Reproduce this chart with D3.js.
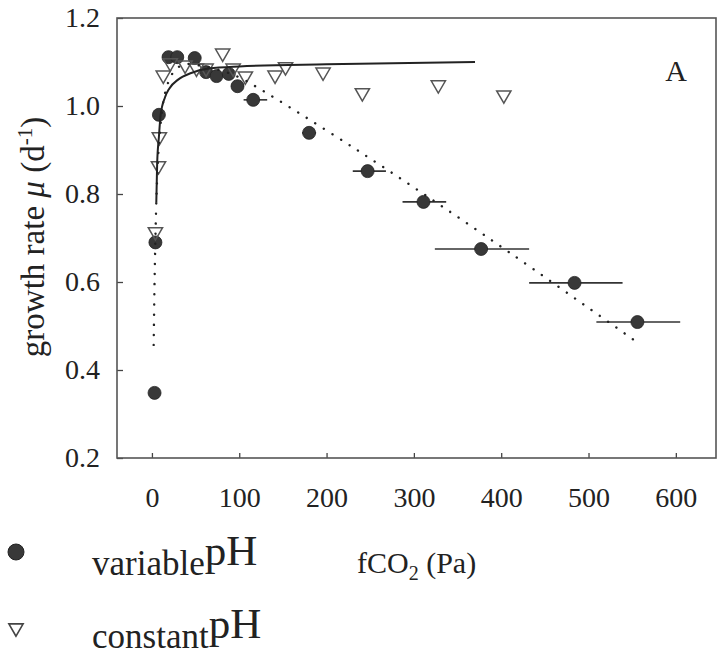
<!DOCTYPE html>
<html>
<head>
<meta charset="utf-8">
<script src="https://cdn.jsdelivr.net/npm/d3@7"></script>
<style>
  body { margin: 0; background: #fff; }
  svg text { font-family: "Liberation Serif", "Times New Roman", serif; fill: #222; }
</style>
</head>
<body>
<svg id="chart"></svg>
<script>
// tick values
const xTicks = [0, 100, 200, 300, 400, 500, 600];
const yTicks = [0.2, 0.4, 0.6, 0.8, 1.0, 1.2];

// variable pH (filled circles) + horizontal error bars
const varX  = [3, 4, 8, 19, 29, 49, 62, 74, 88, 98, 116, 180, 247, 311, 377, 484, 556];
const varY  = [0.348, 0.69, 0.98, 1.111, 1.111, 1.109, 1.077, 1.068, 1.073, 1.045, 1.014, 0.939, 0.852, 0.782, 0.675, 0.598, 0.509];
const varLo = [null, null, null, null, null, null, null, null, null, null, 105, 172, 230, 287, 324, 432, 509];
const varHi = [null, null, null, null, null, null, null, null, null, null, 132, 188, 268, 337, 432, 539, 605];

// constant pH (open triangles)
const conX = [4, 7.5, 8.5, 13, 21, 38, 51, 62, 81, 93, 107, 141, 153, 196, 241, 328, 403];
const conY = [0.714, 0.864, 0.93, 1.07, 1.098, 1.093, 1.086, 1.086, 1.12, 1.086, 1.068, 1.07, 1.089, 1.077, 1.03, 1.048, 1.025];

// fitted curve, constant pH (solid)
const fitConX = [5, 6, 8, 10, 15, 20, 30, 45, 65, 100, 200, 370];
const fitConY = [0.78, 0.87, 0.93, 0.98, 1.02, 1.04, 1.06, 1.075, 1.085, 1.09, 1.095, 1.1];

// fitted curve, variable pH (dotted)
const fitVarX = [2, 3, 4, 5, 7, 10, 14, 20, 28, 40, 60, 80, 100, 120, 235, 384, 555];
const fitVarY = [0.457, 0.6, 0.7, 0.78, 0.88, 0.96, 1.02, 1.06, 1.085, 1.095, 1.09, 1.08, 1.065, 1.043, 0.9, 0.702, 0.464];

const W = 721, H = 656;
const box = { left: 117, right: 716, top: 18, bottom: 458 };

const svg = d3.select("#chart").attr("width", W).attr("height", H);
svg.append("rect").attr("width", W).attr("height", H).attr("fill", "#fff");

const x = d3.scaleLinear().domain([-40, 646]).range([box.left, box.right]);
const y = d3.scaleLinear().domain([0.2, 1.2]).range([box.bottom, box.top]);

// axes with inward ticks
const xAxis = svg.append("g")
    .attr("transform", `translate(0,${box.bottom})`)
    .call(d3.axisBottom(x).tickValues(xTicks).tickFormat(d3.format("d"))
        .tickSizeInner(-5).tickSizeOuter(0).tickPadding(29));
const yAxis = svg.append("g")
    .attr("transform", `translate(${box.left},0)`)
    .call(d3.axisLeft(y).tickValues(yTicks).tickFormat(d3.format(".1f"))
        .tickSizeInner(-6).tickSizeOuter(0).tickPadding(17));

[xAxis, yAxis].forEach(g => {
    g.attr("font-family", null);
    g.select(".domain").remove();
    g.selectAll(".tick line").attr("stroke", "#444").attr("stroke-width", 1.3);
    g.selectAll("text").style("font-family", "'Liberation Serif', serif").attr("fill", "#222");
});
xAxis.selectAll("text").attr("font-size", 28);
yAxis.selectAll("text").attr("font-size", 28);

// frame
svg.append("rect")
    .attr("x", box.left).attr("y", box.top)
    .attr("width", box.right - box.left).attr("height", box.bottom - box.top)
    .attr("fill", "none").attr("stroke", "#555").attr("stroke-width", 1.6);

// error bars
const bars = varX.map((d, i) => ({ x: d, y: varY[i], lo: varLo[i], hi: varHi[i] }))
    .filter(d => d.lo !== null);
svg.selectAll(".err").data(bars).enter().append("line")
    .attr("class", "err")
    .attr("x1", d => x(d.lo)).attr("x2", d => x(d.hi))
    .attr("y1", d => y(d.y)).attr("y2", d => y(d.y))
    .attr("stroke", "#333").attr("stroke-width", 1.6);

// variable pH points
svg.selectAll(".var").data(varX.map((d, i) => [d, varY[i]])).enter().append("circle")
    .attr("class", "var")
    .attr("cx", d => x(d[0])).attr("cy", d => y(d[1])).attr("r", 6.5)
    .attr("fill", "#383838").attr("stroke", "#222").attr("stroke-width", 0.8);

// constant pH points (downward triangles)
const tri = d3.symbol().type(d3.symbolTriangle).size(88);
svg.selectAll(".con").data(conX.map((d, i) => [d, conY[i]])).enter().append("path")
    .attr("class", "con")
    .attr("d", tri)
    .attr("transform", d => `translate(${x(d[0])},${y(d[1])}) rotate(180)`)
    .attr("fill", "none").attr("stroke", "#555").attr("stroke-width", 1.5);

// fitted lines
const line = d3.line().x(d => x(d[0])).y(d => y(d[1])).curve(d3.curveMonotoneX);
svg.append("path")
    .datum(fitVarX.map((d, i) => [d, fitVarY[i]]))
    .attr("d", d3.line().x(d => x(d[0])).y(d => y(d[1])).curve(d3.curveCatmullRom))
    .attr("fill", "none").attr("stroke", "#222").attr("stroke-width", 2.4)
    .attr("stroke-linecap", "round").attr("stroke-dasharray", "0.1 10");
svg.append("path")
    .datum(fitConX.map((d, i) => [d, fitConY[i]]))
    .attr("d", line)
    .attr("fill", "none").attr("stroke", "#222").attr("stroke-width", 2);

// panel letter
svg.append("text").attr("x", 676).attr("y", 81)
    .attr("text-anchor", "middle").attr("font-size", 30).text("A");

// y title
const yt = svg.append("text")
    .attr("transform", "translate(44,237) rotate(-90)")
    .attr("text-anchor", "middle").attr("font-size", 33);
yt.append("tspan").text("growth rate ");
yt.append("tspan").attr("font-style", "italic").text("μ");
yt.append("tspan").text(" (d");
yt.append("tspan").attr("font-size", 21).attr("dy", -12).text("-1");
yt.append("tspan").attr("dy", 12).text(")");

// x title
const xt = svg.append("text").attr("x", 357).attr("y", 573).attr("font-size", 30);
xt.append("tspan").text("fCO");
xt.append("tspan").attr("font-size", 20).attr("dy", 7).text("2");
xt.append("tspan").attr("dy", -7).text(" (Pa)");

// legend
svg.append("circle").attr("cx", 16).attr("cy", 552).attr("r", 8)
    .attr("fill", "#383838").attr("stroke", "#222");
svg.append("path").attr("d", tri)
    .attr("transform", "translate(16,628) rotate(180)")
    .attr("fill", "none").attr("stroke", "#444").attr("stroke-width", 1.6);

const l1 = svg.append("text").attr("x", 92).attr("y", 575);
l1.append("tspan").attr("font-size", 35).text("variable");
l1.append("tspan").attr("font-size", 43).attr("dy", -10).text("pH");
const l2 = svg.append("text").attr("x", 92).attr("y", 648);
l2.append("tspan").attr("font-size", 35).text("constant");
l2.append("tspan").attr("font-size", 43).attr("dy", -10).text("pH");
</script>
</body>
</html>
